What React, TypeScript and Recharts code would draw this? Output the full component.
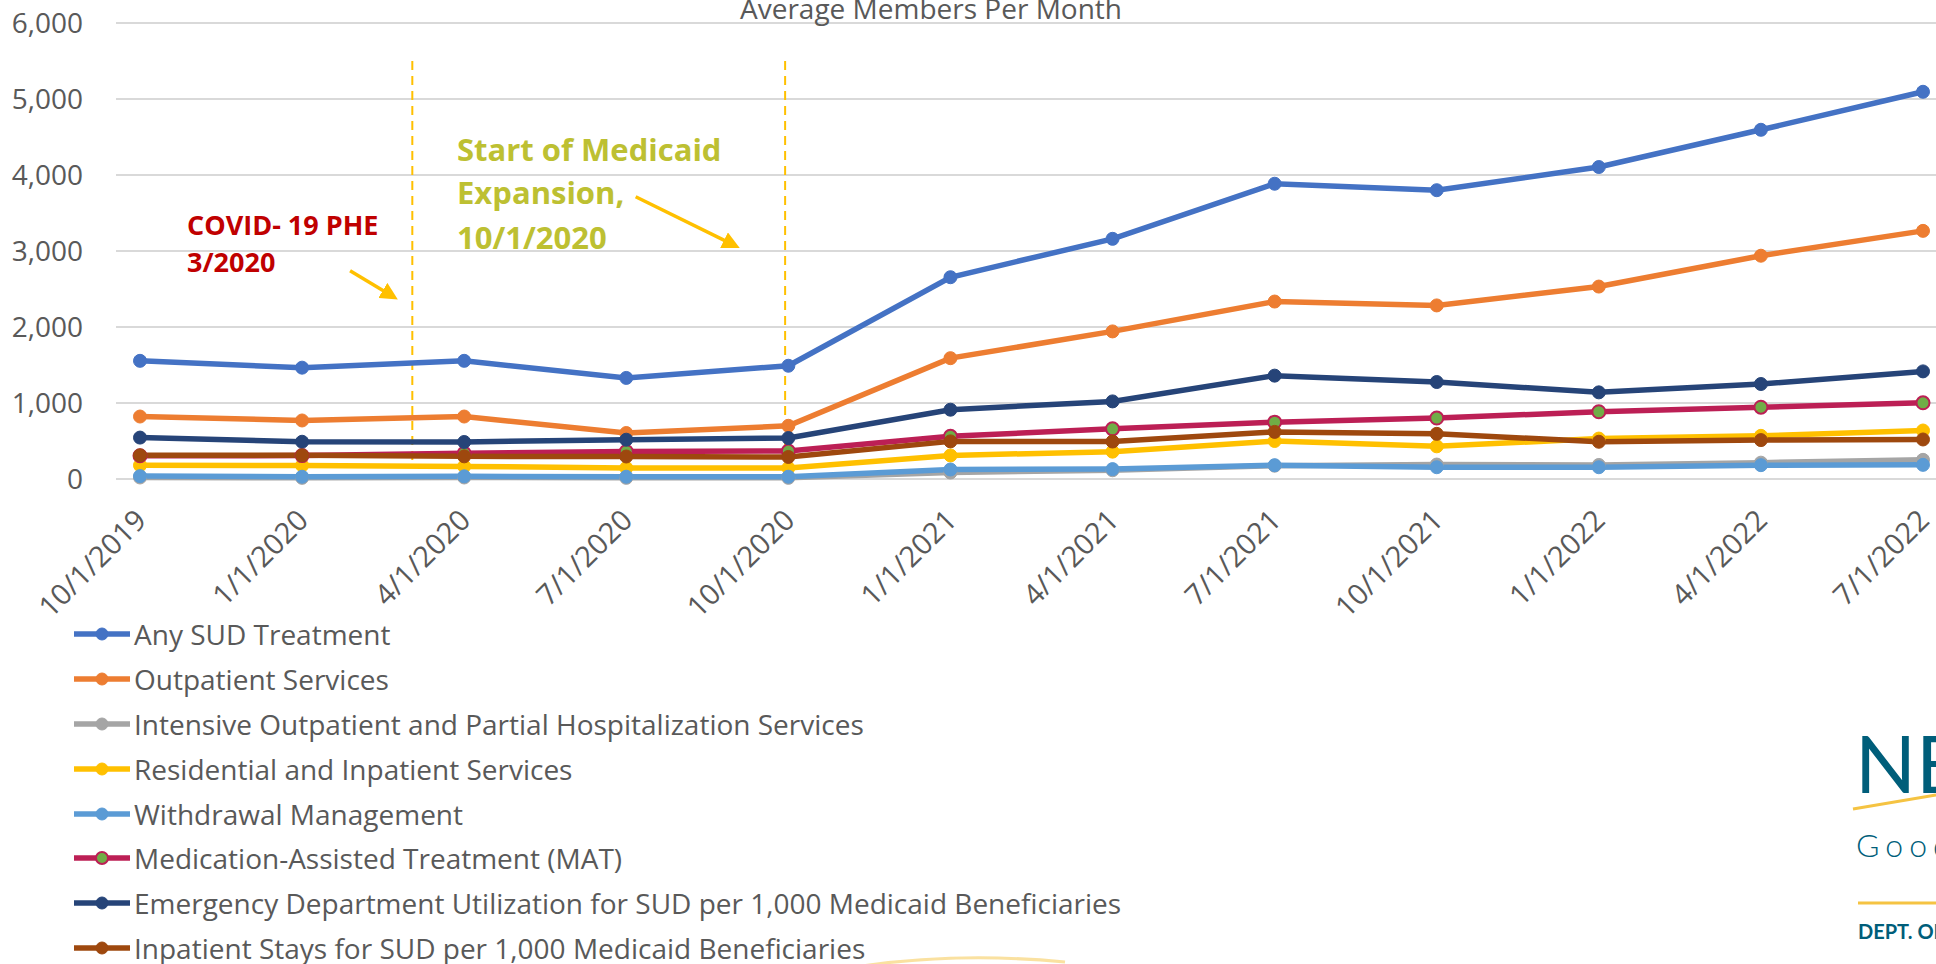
import {
  LineChart,
  Line,
  XAxis,
  YAxis,
  CartesianGrid,
  Legend,
  ReferenceLine,
} from "recharts";

const periods = [
  "10/1/2019", "1/1/2020", "4/1/2020", "7/1/2020", "10/1/2020", "1/1/2021",
  "4/1/2021", "7/1/2021", "10/1/2021", "1/1/2022", "4/1/2022", "7/1/2022",
];

const anySud = [1555, 1465, 1555, 1330, 1490, 2655, 3160, 3885, 3800, 4105, 4595, 5095];
const outpatient = [822, 770, 822, 605, 700, 1590, 1942, 2335, 2284, 2532, 2938, 3265];
const intensive = [20, 15, 20, 15, 15, 85, 115, 175, 190, 185, 215, 252];
const residential = [180, 178, 166, 145, 145, 310, 360, 500, 430, 532, 568, 638];
const withdrawal = [38, 30, 35, 30, 30, 125, 130, 182, 155, 155, 182, 186];
const mat = [305, 308, 338, 362, 368, 561, 660, 748, 802, 885, 945, 1003];
const edVisits = [545, 490, 487, 517, 539, 912, 1021, 1360, 1276, 1140, 1250, 1416];
const inpatientStays = [311, 311, 298, 296, 290, 495, 493, 620, 594, 490, 512, 520];

const yTicks = [0, 1000, 2000, 3000, 4000, 5000, 6000];

const FONT = "'Open Sans', sans-serif";
const TEXT_GRAY = "#595959";

const series = [
  { key: "anySud", name: "Any SUD Treatment", color: "#4472C4", dotFill: "#4472C4", values: anySud },
  { key: "outpatient", name: "Outpatient Services", color: "#ED7D31", dotFill: "#ED7D31", values: outpatient },
  { key: "intensive", name: "Intensive Outpatient and Partial Hospitalization Services", color: "#A5A5A5", dotFill: "#A5A5A5", values: intensive },
  { key: "residential", name: "Residential and Inpatient Services", color: "#FFC000", dotFill: "#FFC000", values: residential },
  { key: "withdrawal", name: "Withdrawal Management", color: "#5B9BD5", dotFill: "#5B9BD5", values: withdrawal },
  { key: "mat", name: "Medication-Assisted Treatment (MAT)", color: "#BC1F55", dotFill: "#70AD47", values: mat },
  { key: "ed", name: "Emergency Department Utilization for SUD per 1,000 Medicaid Beneficiaries", color: "#264478", dotFill: "#264478", values: edVisits },
  { key: "inpatient", name: "Inpatient Stays for SUD per 1,000 Medicaid Beneficiaries", color: "#9E480E", dotFill: "#9E480E", values: inpatientStays },
];

const chartData = periods.map((period, i) => {
  const row: Record<string, number | string> = { idx: i, period };
  series.forEach((s) => {
    row[s.key] = s.values[i];
  });
  return row;
});

const xTicks = periods.map((_, i) => i);

// rotated date labels like Excel's -45deg category labels
const DateTick = (props: any) => {
  const { x, y, payload } = props;
  const ax = x + 8;
  const ay = y + 43;
  return (
    <text
      x={ax}
      y={ay}
      transform={`rotate(-45, ${ax}, ${ay})`}
      textAnchor="end"
      fill={TEXT_GRAY}
      fontSize={29}
      fontFamily={FONT}
    >
      {periods[payload.value]}
    </text>
  );
};

// legend keeps the series order (recharts would sort by name)
const LegendList = () => (
  <div style={{ fontFamily: FONT }}>
    {series.map((s) => (
      <div key={s.key} style={{ display: "flex", alignItems: "center", height: 44.8 }}>
        <svg width={58} height={16} style={{ marginRight: 2 }}>
          <line x1={0} y1={8} x2={56} y2={8} stroke={s.color} strokeWidth={5.5} />
          <circle
            cx={28}
            cy={8}
            r={6}
            fill={s.dotFill}
            stroke={s.color}
            strokeWidth={s.dotFill !== s.color ? 2 : 1}
          />
        </svg>
        <span style={{ fontSize: 28, color: TEXT_GRAY, whiteSpace: "nowrap" }}>{s.name}</span>
      </div>
    ))}
  </div>
);

export default function App() {
  return (
    <div
      style={{
        position: "absolute",
        left: 0,
        top: 0,
        width: 1936,
        height: 964,
        overflow: "hidden",
        background: "#fff",
      }}
    >
      <LineChart
        width={1936}
        height={964}
        data={chartData}
        margin={{ top: 23, right: 0, bottom: 365, left: 0 }}
      >
        <defs>
          <marker
            id="arrowHead"
            viewBox="0 0 10 10"
            refX="7"
            refY="5"
            markerWidth="5"
            markerHeight="5"
            orient="auto"
          >
            <path d="M0,0 L10,5 L0,10 z" fill="#FFC000" />
          </marker>
        </defs>
        <CartesianGrid vertical={false} stroke="#D9D9D9" strokeWidth={2} />
        <XAxis
          dataKey="idx"
          type="number"
          domain={[0, 11]}
          ticks={xTicks}
          interval={0}
          padding={{ left: 24, right: 13 }}
          axisLine={false}
          tickLine={false}
          tickSize={0}
          tickMargin={0}
          height={120}
          tick={<DateTick />}
        />
        <YAxis
          domain={[0, 6000]}
          ticks={yTicks}
          width={116}
          axisLine={false}
          tickLine={false}
          tickSize={0}
          tickMargin={33}
          tickFormatter={(v: number) => v.toLocaleString("en-US")}
          tick={{ fill: TEXT_GRAY, fontSize: 28, fontFamily: FONT }}
        />
        <ReferenceLine
          segment={[{ x: 1.68, y: 5500 }, { x: 1.68, y: 250 }]}
          stroke="#FFC000"
          strokeWidth={2}
          strokeDasharray="9 6"
        />
        <ReferenceLine
          segment={[{ x: 3.98, y: 5500 }, { x: 3.98, y: 0 }]}
          stroke="#FFC000"
          strokeWidth={2}
          strokeDasharray="9 6"
        />
        <ReferenceLine
          segment={[{ x: 1.296, y: 2741 }, { x: 1.563, y: 2399 }]}
          stroke="#FFC000"
          strokeWidth={3.5}
          markerEnd="url(#arrowHead)"
        />
        <ReferenceLine
          segment={[{ x: 3.058, y: 3714 }, { x: 3.671, y: 3070 }]}
          stroke="#FFC000"
          strokeWidth={3.5}
          markerEnd="url(#arrowHead)"
        />
        {series.map((s) => (
          <Line
            key={s.key}
            type="linear"
            dataKey={s.key}
            name={s.name}
            stroke={s.color}
            strokeWidth={5.5}
            dot={{ r: 6.5, fill: s.dotFill, stroke: s.color, strokeWidth: s.dotFill !== s.color ? 2 : 1 }}
            activeDot={false}
            isAnimationActive={false}
          />
        ))}
        <Legend
          layout="vertical"
          align="center"
          verticalAlign="middle"
          wrapperStyle={{ left: 74, top: 612, width: 1200 }}
          content={<LegendList />}
        />
      </LineChart>

      <svg
        width={1936}
        height={964}
        style={{ position: "absolute", left: 0, top: 0, pointerEvents: "none" }}
      >
        <text x={931} y={19} textAnchor="middle" fontSize={28} fontFamily={FONT} fill={TEXT_GRAY}>
          Average Members Per Month
        </text>
        <g fontFamily={FONT} fontWeight={700} fontSize={27} fill="#C00000">
          <text x={187} y={235}>COVID- 19 PHE</text>
          <text x={187} y={272}>3/2020</text>
        </g>
        <g fontFamily={FONT} fontWeight={700} fontSize={31} fill="#BDC032">
          <text x={457} y={161}>Start of Medicaid</text>
          <text x={457} y={204}>Expansion,</text>
          <text x={457} y={249}>10/1/2020</text>
        </g>
        <path d="M 862 966 Q 960 952 1065 962" stroke="#F5C342" strokeWidth={3} fill="none" opacity={0.5} />
        <g fill="#005E7A" fontFamily="Lato, sans-serif">
          <text x={1855} y={793} fontSize={80} fontWeight={400}>NEBRASKA</text>
          <text x={1856} y={857} fontSize={32} fontWeight={300} letterSpacing={6}>Good Life. Great Mission.</text>
          <text x={1858} y={939} fontSize={20} fontWeight={700}>DEPT. OF HEALTH AND HUMAN SERVICES</text>
        </g>
        <path d="M 1853 809 L 1936 795" stroke="#F5C342" strokeWidth={3} />
        <line x1={1858} y1={903} x2={1936} y2={903} stroke="#F5C342" strokeWidth={3} />
      </svg>
    </div>
  );
}
